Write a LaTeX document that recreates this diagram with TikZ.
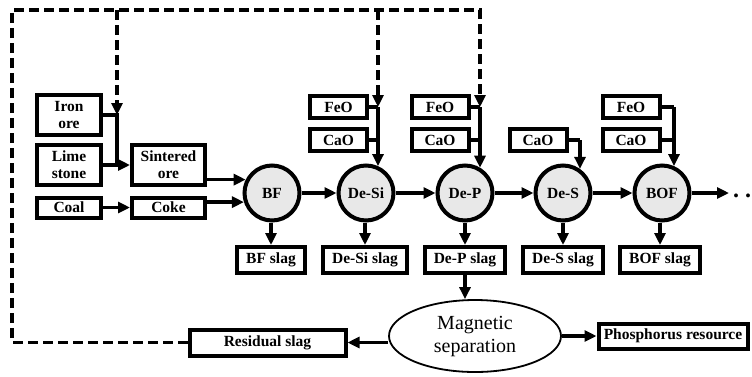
\documentclass[tikz,border=0pt]{standalone}
\usepackage{fontspec}
\setmainfont{Liberation Serif}
\usetikzlibrary{arrows.meta,shapes.geometric}
\begin{document}
\begin{tikzpicture}[x=1pt,y=-1pt,
  box/.style={draw,line width=4pt,font=\bfseries\fontsize{15.5}{17}\selectfont,align=center,inner sep=0pt},
  feed/.style={box,minimum width=57,minimum height=22},
  slag/.style={box,minimum height=26,inner xsep=9pt},
  proc/.style={circle,draw,line width=4pt,fill=gray!18,minimum size=55pt,inner sep=0pt,font=\bfseries\fontsize{15.5}{17}\selectfont},
  ln/.style={line width=3.4pt},
  flow/.style={ln,-{Triangle[length=12pt,width=11pt]}},
  dashln/.style={line width=3.6pt,dash pattern=on 10pt off 5pt},
  dflow/.style={dashln,-{Triangle[length=12pt,width=11pt]}},
]
\useasboundingbox (0,0) rectangle (752,376);

% raw materials
\node[box,minimum width=64,minimum height=40] (iron) at (69,115) {Iron\\ore};
\node[box,minimum width=64,minimum height=40] (lime) at (69,165) {Lime\\stone};
\node[box,minimum width=64,minimum height=20] (coal) at (69,207.5) {Coal};
\node[box,minimum width=73,minimum height=40] (sint) at (168.5,165) {Sintered\\ore};
\node[box,minimum width=73,minimum height=20] (coke) at (168.5,207.5) {Coke};

% processes
\node[proc] (bf) at (272,193) {BF};
\node[proc] (desi) at (366,193) {De-Si};
\node[proc] (dep) at (465,193) {De-P};
\node[proc] (des) at (563,193) {De-S};
\node[proc] (bof) at (662,193) {BOF};

% fluxes
\node[feed] (f1) at (338.5,107) {FeO};
\node[feed] (c1) at (338.5,140) {CaO};
\node[feed] (f2) at (440,107) {FeO};
\node[feed] (c2) at (440,140) {CaO};
\node[feed] (c3) at (538,140) {CaO};
\node[feed] (f4) at (631,107) {FeO};
\node[feed] (c4) at (631,140) {CaO};

% slags
\node[slag] (bfslag) at (271,260) {BF slag};
\node[slag] (desislag) at (365,260) {De-Si slag};
\node[slag] (depslag) at (465,260) {De-P slag};
\node[slag] (desslag) at (563,260) {De-S slag};
\node[slag] (bofslag) at (660,260) {BOF slag};

% separation
\node[ellipse,draw,line width=1.8pt,minimum width=172,minimum height=72,inner sep=0pt,align=center,
      font=\fontsize{20}{23}\selectfont] (mag) at (475,336) {Magnetic\\separation};
\node[box,minimum width=149,minimum height=25] (phos) at (673,336) {Phosphorus resource};
\node[box,minimum width=156,minimum height=26] (res) at (267.5,342.5) {Residual slag};
\coordinate (cend) at (729,193);
\node[font=\bfseries\fontsize{24}{24}\selectfont,anchor=base west,inner sep=0pt] (dots) at (733,197) {.\hspace{6pt}.};

% junction coordinates
\coordinate (j1) at (117,115);
\coordinate (k1) at (378,107);
\coordinate (k2) at (480,107);
\coordinate (k3) at (580,140);
\coordinate (k4) at (674,107);

% sinter feed
\draw[ln] (iron.east) -- (j1) -- (j1 |- lime.east);
\draw[flow] (lime.east) -- (sint.west);
\draw[flow] (coal.east) -- (coke.west);
\draw[flow] (sint.east |- bf.153) -- (bf.153);
\draw[flow] (coke.east |- bf.198) -- (bf.198);

% main chain
\draw[flow] (bf.east) -- (desi.west);
\draw[flow] (desi.east) -- (dep.west);
\draw[flow] (dep.east) -- (des.west);
\draw[flow] (des.east) -- (bof.west);
\draw[flow] (bof.east) -- (cend);

% flux feeds
\draw[ln] (f1.east) -- (k1);
\draw[ln] (c1.east) -- (c1.east -| k1);
\draw[flow] (k1) -- (k1 |- desi.66);
\draw[ln] (f2.east) -- (k2);
\draw[ln] (c2.east) -- (c2.east -| k2);
\draw[flow] (k2) -- (k2 |- dep.59);
\draw[ln] (c3.east) -- (k3);
\draw[flow] (k3) -- (k3 |- des.55);
\draw[ln] (f4.east) -- (k4);
\draw[ln] (c4.east) -- (c4.east -| k4);
\draw[flow] (k4) -- (k4 |- bof.66);

% slag outputs
\draw[flow] (bf.south -| bfslag.north) -- (bfslag.north);
\draw[flow] (desi.south -| desislag.north) -- (desislag.north);
\draw[flow] (dep.south) -- (depslag.north);
\draw[flow] (des.south) -- (desslag.north);
\draw[flow] (bof.south -| bofslag.north) -- (bofslag.north);

% separation
\draw[flow] (depslag.south) -- (depslag.south |- mag.north);
\draw[flow] (mag.east) -- (phos.west);
\draw[flow] (mag.west |- res.east) -- (res.east);

% recycle (dashed)
\coordinate (r0) at (12,342.5);
\coordinate (r1) at (12,10);
\draw[dflow] (res.west) -- (r0) -- (r1) -- (k2 |- r1) -- (k2);
\draw[dflow] (j1 |- r1) -- (j1);
\draw[dflow] (k1 |- r1) -- (k1);
\end{tikzpicture}
\end{document}
